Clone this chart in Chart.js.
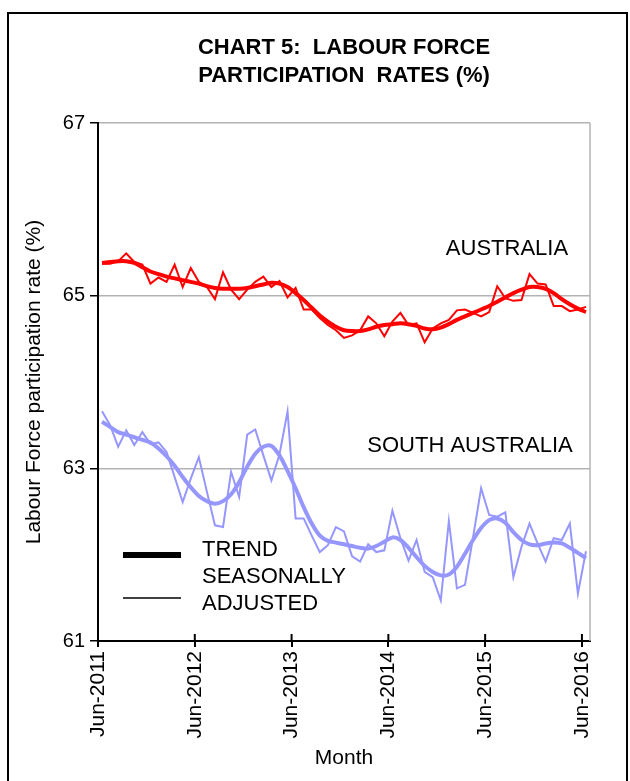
<!DOCTYPE html>
<html><head><meta charset="utf-8">
<script src="https://cdn.jsdelivr.net/npm/chart.js@4.4.1/dist/chart.umd.min.js"></script>
<style>
html,body{margin:0;padding:0;background:#fff;overflow:hidden;}
#wrap{position:relative;width:630px;height:781px;}
#frame{position:absolute;left:7px;top:12px;width:621px;height:800px;border:2px solid #000;box-sizing:border-box;}
canvas{position:absolute;left:0;top:0;}
</style></head><body>
<div id="wrap"><div id="frame"></div><canvas id="c" width="630" height="781"></canvas></div>
<script>
// ---- categories ----
const monthNames = ['Jan','Feb','Mar','Apr','May','Jun','Jul','Aug','Sep','Oct','Nov','Dec'];
const months = [];
for (let k = 0; k < 61; k++) { const mi = (5 + k) % 12; const yr = 2011 + Math.floor((5 + k) / 12); months.push(monthNames[mi] + '-' + yr); }
const tickLabels = ['Jun-2011','Jun-2012','Jun-2013','Jun-2014','Jun-2015','Jun-2016'];
const yTicks = [61, 63, 65, 67];

// ---- series (%), Jun-2011 .. Jun-2016 ----
const ausTrend = [65.38,65.39,65.40,65.40,65.38,65.33,65.28,65.25,65.22,65.20,65.18,65.16,65.14,65.11,65.09,65.08,65.08,65.08,65.09,65.11,65.13,65.15,65.14,65.10,65.03,64.95,64.86,64.77,64.70,64.64,64.60,64.59,64.59,64.61,64.64,64.66,64.67,64.68,64.67,64.65,64.62,64.61,64.63,64.67,64.72,64.76,64.80,64.84,64.88,64.93,64.98,65.03,65.07,65.10,65.10,65.08,65.03,64.96,64.90,64.85,64.81];
const ausSA = [65.37,65.37,65.40,65.49,65.39,65.36,65.14,65.21,65.16,65.36,65.10,65.32,65.16,65.10,64.96,65.27,65.07,64.96,65.07,65.16,65.22,65.10,65.17,64.98,65.09,64.84,64.84,64.74,64.66,64.60,64.51,64.54,64.60,64.76,64.68,64.53,64.70,64.80,64.66,64.68,64.46,64.62,64.68,64.72,64.83,64.84,64.80,64.76,64.81,65.11,64.97,64.94,64.95,65.25,65.14,65.13,64.88,64.88,64.82,64.84,64.87];
const saTrend = [63.54,63.48,63.42,63.39,63.36,63.33,63.30,63.23,63.14,63.03,62.90,62.78,62.68,62.62,62.59,62.62,62.70,62.84,63.02,63.17,63.25,63.26,63.15,62.97,62.77,62.55,62.36,62.22,62.16,62.14,62.12,62.10,62.08,62.07,62.10,62.15,62.20,62.17,62.08,61.97,61.87,61.80,61.76,61.77,61.86,62.01,62.17,62.31,62.40,62.42,62.37,62.26,62.17,62.12,62.11,62.13,62.14,62.13,62.08,62.02,61.96];
const saSA = [63.66,63.50,63.25,63.44,63.27,63.42,63.28,63.30,63.19,62.90,62.61,62.88,63.13,62.73,62.34,62.32,62.96,62.67,63.39,63.45,63.15,62.86,63.16,63.66,62.42,62.42,62.22,62.03,62.11,62.32,62.27,61.98,61.92,62.12,62.03,62.05,62.51,62.19,61.93,62.17,61.80,61.74,61.47,62.39,61.61,61.65,62.20,62.77,62.46,62.44,62.49,61.74,62.09,62.36,62.13,61.92,62.19,62.17,62.36,61.55,62.04];

const RED = '#ff0000';
const BLUE = 'rgb(150,150,255)';
const FONT = "'Liberation Sans', Arial, sans-serif";
Chart.defaults.font.family = FONT;
Chart.defaults.color = '#000';

const decor = {
  id: 'decor',
  afterDraw(chart) {
    const {ctx, chartArea: a, scales} = chart;
    ctx.save();
    // right border of plot
    ctx.strokeStyle = '#b3b3b3'; ctx.lineWidth = 1.5;
    ctx.beginPath(); ctx.moveTo(a.right, a.top); ctx.lineTo(a.right, a.bottom); ctx.stroke();
    // x ticks crossing inside
    const xs = scales.x;
    const half = (xs.getPixelForTick(1) - xs.getPixelForTick(0)) / 2;
    ctx.strokeStyle = '#000'; ctx.lineWidth = 2;
    for (let i = 0; i < months.length; i++) {
      if (tickLabels.includes(months[i])) {
        const px = xs.getPixelForTick(i) - half;
        ctx.beginPath(); ctx.moveTo(px, a.bottom - 7); ctx.lineTo(px, a.bottom); ctx.stroke();
      }
    }
    // legend
    ctx.strokeStyle = '#000';
    ctx.lineWidth = 6; ctx.beginPath(); ctx.moveTo(123, 555); ctx.lineTo(181, 555); ctx.stroke();
    ctx.lineWidth = 1.5; ctx.beginPath(); ctx.moveTo(123, 598); ctx.lineTo(181, 598); ctx.stroke();
    ctx.fillStyle = '#000';
    ctx.font = '22px ' + FONT;
    ctx.textBaseline = 'middle'; ctx.textAlign = 'left';
    ctx.fillText('TREND', 202, 550);
    ctx.fillText('SEASONALLY', 202, 577);
    ctx.fillText('ADJUSTED', 202, 604);
    ctx.textAlign = 'center';
    ctx.fillText('AUSTRALIA', 507, 249);
    ctx.fillText('SOUTH AUSTRALIA', 470, 446);
    ctx.restore();
  }
};

new Chart(document.getElementById('c'), {
  type: 'line',
  data: {
    labels: months,
    datasets: [
      {label: 'Australia trend', data: ausTrend, borderColor: RED, borderWidth: 4, pointRadius: 0, tension: 0.3, order: 1},
      {label: 'South Australia trend', data: saTrend, borderColor: BLUE, borderWidth: 4, pointRadius: 0, tension: 0.3, order: 2},
      {label: 'Australia seasonally adjusted', data: ausSA, borderColor: RED, borderWidth: 2, pointRadius: 0, tension: 0, order: 3},
      {label: 'South Australia seasonally adjusted', data: saSA, borderColor: BLUE, borderWidth: 2, pointRadius: 0, tension: 0, order: 4}
    ]
  },
  options: {
    responsive: false,
    animation: false,
    layout: {padding: {left: 0, right: 40, top: 0, bottom: 0}},
    plugins: {
      legend: {display: false},
      tooltip: {enabled: false},
      title: {
        display: true, fullSize: false,
        text: ['CHART 5:  LABOUR FORCE', 'PARTICIPATION  RATES (%)'],
        font: {size: 22, weight: 'bold', lineHeight: 1.273},
        color: '#000',
        padding: {top: 34, bottom: 33}
      }
    },
    scales: {
      x: {
        type: 'category',
        offset: true,
        afterFit(s) { s.height = 140; },
        grid: {
          drawOnChartArea: false, offset: true, tickLength: 6, lineWidth: 2,
          tickColor: (c) => (c.index < months.length && tickLabels.includes(months[c.index])) ? '#000' : 'rgba(0,0,0,0)'
        },
        border: {color: '#000', width: 2},
        ticks: {
          autoSkip: false, minRotation: 90, maxRotation: 90, padding: 4, labelOffset: -4,
          font: {size: 21},
          callback(v, i) { return tickLabels.includes(months[i]) ? months[i] : ''; }
        },
        title: {display: true, text: 'Month', font: {size: 21}, padding: {top: 0, bottom: 10}}
      },
      y: {
        min: 61, max: 67,
        afterFit(s) { s.width = 98; },
        afterBuildTicks(s) { s.ticks = yTicks.map(v => ({value: v})); },
        grid: {
          color: (c) => (c.tick && c.tick.value === 61) ? 'rgba(0,0,0,0)' : '#b3b3b3',
          lineWidth: 1.5, tickColor: '#000', tickLength: 8
        },
        border: {color: '#000', width: 2},
        ticks: {font: {size: 20}, padding: 5},
        title: {display: true, text: 'Labour Force participation rate (%)', font: {size: 21}, padding: {top: 22, bottom: 0}}
      }
    }
  },
  plugins: [decor]
});
</script>
</body></html>
